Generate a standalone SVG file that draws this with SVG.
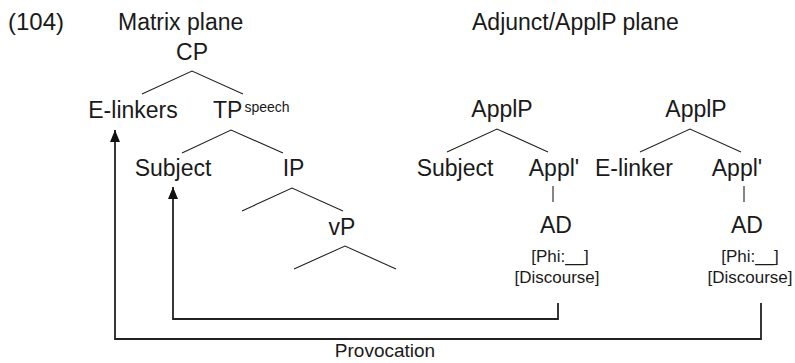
<svg xmlns="http://www.w3.org/2000/svg" width="795" height="363" viewBox="0 0 795 363">
  <defs>
    <!-- filled triangular head, drawn pointing along +x so orient="auto" follows the path -->
    <marker id="head" viewBox="0 0 12 10" refX="12" refY="5" markerWidth="12" markerHeight="10" markerUnits="userSpaceOnUse" orient="auto">
      <path d="M0,0 L12,5 L0,10 Z" fill="#111"/>
    </marker>
  </defs>
  <style>
    text { font-family: "Liberation Sans", Arial, sans-serif; fill: #1a1a1a; }
    .lbl { font-size: 23px; text-anchor: middle; }
    .title { font-size: 23px; }
    .feat { font-size: 17px; text-anchor: middle; }
    .sup { font-size: 14px; }
    .branch { stroke: #222; stroke-width: 1.1; fill: none; }
    .move { stroke: #222; stroke-width: 1.8; fill: none; }
  </style>
  <rect width="795" height="363" fill="#fff"/>

  <!-- headings -->
  <g id="headings">
    <text class="title" x="8" y="30" style="font-size:24px">(104)</text>
    <text class="title" x="118" y="30">Matrix plane</text>
    <text class="title" x="472" y="30">Adjunct/ApplP plane</text>
  </g>

  <!-- matrix tree -->
  <g id="cp"><text class="lbl" x="192" y="60">CP</text></g>
  <g id="elinkers"><text class="lbl" x="133" y="118">E-linkers</text></g>
  <g id="tp"><text class="title" x="213" y="118">TP<tspan class="sup" dx="2" dy="-6">speech</tspan></text></g>
  <g id="subject-matrix"><text class="lbl" x="173" y="176">Subject</text></g>
  <g id="ip"><text class="lbl" x="293.5" y="176">IP</text></g>
  <g id="vp"><text class="lbl" x="342" y="235">vP</text></g>

  <!-- first ApplP tree -->
  <g id="applp1"><text class="lbl" x="502" y="117">ApplP</text></g>
  <g id="subject-appl"><text class="lbl" x="455" y="176">Subject</text></g>
  <g id="applbar1"><text class="lbl" x="554" y="176">Appl'</text></g>
  <g id="ad1">
    <text class="lbl" x="556" y="233">AD</text>
    <text class="feat" x="560" y="262">[Phi:__]</text>
    <text class="feat" x="557" y="283">[Discourse]</text>
  </g>

  <!-- second ApplP tree -->
  <g id="applp2"><text class="lbl" x="696" y="117">ApplP</text></g>
  <g id="elinker-appl"><text class="lbl" x="634" y="176">E-linker</text></g>
  <g id="applbar2"><text class="lbl" x="737" y="176">Appl'</text></g>
  <g id="ad2">
    <text class="lbl" x="747" y="233">AD</text>
    <text class="feat" x="750" y="262">[Phi:__]</text>
    <text class="feat" x="750" y="283">[Discourse]</text>
  </g>

  <!-- branches and movement paths -->
  <g id="connectors">
    <polyline class="branch" points="142,94 192,71 243,94"/>
    <polyline class="branch" points="182,153 231,130 283,153"/>
    <polyline class="branch" points="242,211 292,188 343,211"/>
    <polyline class="branch" points="294,269 345,246 396,269"/>
    <polyline class="branch" points="447,152 497,129 548,152"/>
    <polyline class="branch" points="640,152 690,129 741,152"/>
    <line class="branch" x1="553" y1="186" x2="553" y2="202"/>
    <line class="branch" x1="744" y1="186" x2="744" y2="202"/>

    <polyline class="move" points="761,303 761,339 115,339 115,130" marker-end="url(#head)"/>
    <polyline class="move" points="558,303 558,319 173,319 173,187" marker-end="url(#head)"/>
    <text id="provocation" class="feat" style="font-size:19px" x="385" y="357">Provocation</text>
  </g>
</svg>
